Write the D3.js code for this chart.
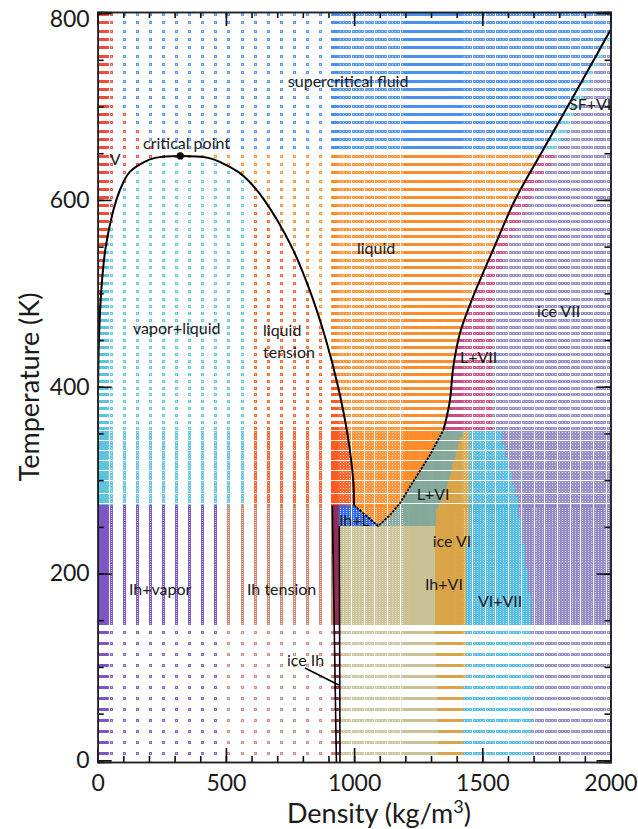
<!DOCTYPE html>
<html><head><meta charset="utf-8">
<script src="https://cdn.jsdelivr.net/npm/d3@7"></script>
<style>
html,body{margin:0;padding:0;background:#fff;}
svg{display:block;}
text{font-family:Lato,"Open Sans",sans-serif;fill:#1a1a1a;}
</style></head>
<body>
<svg id="chart" width="638" height="829"></svg>
<script>
// ---------------- DATA ----------------
// sampling grid: densities (kg/m3)
const densityNearZero = [0.5, 4, 8, 12, 16, 20, 24, 28, 32, 36];
const densityCoarse = [51, 102, 153, 204, 255, 306, 357, 408, 459, 510, 561, 612, 663, 714, 765, 816, 867];
const densityIhEdge = [912, 915, 918, 921, 924, 927, 930, 933];
const densityFine = [943.5, 956.25, 969, 981.75, 994.5, 1007.25, 1020, 1032.75, 1045.5, 1058.25, 1071, 1083.75, 1096.5, 1109.25, 1122, 1134.75, 1147.5, 1160.25, 1173, 1185.75, 1198.5,
  1415.25, 1428, 1440.75, 1453.5, 1466.25, 1479, 1491.75, 1504.5, 1517.25, 1530, 1542.75, 1555.5, 1568.25, 1581, 1593.75, 1606.5, 1619.25, 1632, 1644.75, 1657.5, 1670.25, 1683, 1695.75, 1708.5, 1721.25, 1734, 1746.75, 1759.5, 1772.25, 1785, 1797.75, 1810.5, 1823.25, 1836, 1848.75, 1861.5, 1874.25, 1887, 1899.75, 1912.5, 1925.25, 1938, 1950.75, 1963.5, 1976.25, 1989];
const densityDenseBand = [1200, 1204.25, 1208.5, 1212.75, 1217, 1221.25, 1225.5, 1229.75, 1234, 1238.25, 1242.5, 1246.75, 1251, 1255.25, 1259.5, 1263.75, 1268, 1272.25, 1276.5, 1280.75, 1285, 1289.25, 1293.5, 1297.75, 1302, 1306.25, 1310.5, 1314.75, 1319, 1323.25, 1327.5, 1331.75, 1336, 1340.25, 1344.5, 1348.75, 1353, 1357.25, 1361.5, 1365.75, 1370, 1374.25, 1378.5, 1382.75, 1387, 1391.25, 1395.5, 1399.75, 1404, 1408.25, 1412.5];

// sampling grid: temperatures (K)
const tempHigh = [799, 790.08, 781.16, 772.24, 763.32, 754.4, 745.48, 736.56, 727.64, 718.72, 709.8, 700.88, 691.96, 683.04, 674.12, 665.2, 656.28, 647.36, 638.44, 629.52, 620.6, 611.68, 602.76, 594.4, 586.1, 577.8, 569.4, 561.1, 552.8, 544.4, 536.1, 527.7, 519.4, 511.1, 502.8, 494.4, 486.1, 478.8, 471.6, 464.3, 457.1, 449.8, 442.5, 435.3, 428.0, 420.8, 413.5, 406.2, 399.0, 391.7, 384.5, 377.2, 369.9, 362.7, 355.4];
const tempMid = [351.8, 348.2, 344.7, 341.1, 337.6, 334.0, 330.5, 326.9, 323.4, 319.8, 316.3, 312.7, 309.2, 305.6, 302.1, 298.5, 295.0, 291.4, 287.9, 284.3, 280.8, 277.2, 273.7];
const tempIce = [272.3, 270.1, 267.9, 265.7, 263.5, 261.3, 259.1, 256.9, 254.7, 252.5, 250.3, 248.1, 245.9, 243.7, 241.5, 239.3, 237.1, 234.9, 232.7, 230.5, 228.3, 226.1, 223.9, 221.7, 219.5, 217.3, 215.1, 212.9, 210.7, 208.5, 206.3, 204.1, 201.9, 199.7, 197.5, 195.3, 193.1, 190.9, 188.7, 186.5, 184.3, 182.1, 179.9, 177.7, 175.5, 173.3, 171.1, 168.9, 166.7, 164.5, 162.3, 160.1, 157.9, 155.7, 153.5, 151.3, 149.1, 146.9];
const tempLow = [137.1, 125.3, 113.5, 101.7, 90.0, 78.2, 66.4, 54.6, 42.8, 31.1, 19.3, 7.5];

// liquid-vapour coexistence (T, vapour density, liquid density)
const satT   = [273.16, 300, 350, 400, 450, 500, 550, 600, 620, 630, 640, 645, 647.1];
const satVap = [0.0049, 0.0256, 0.26, 1.37, 4.81, 13.2, 31.5, 72.8, 101.9, 125.1, 177.1, 224, 322];
const satLiq = [999.8, 996.5, 973.7, 937.5, 890.3, 831.3, 756.0, 649.4, 589.9, 548.0, 481.5, 431, 322];
const criticalPoint = [322, 647.1];

// melting curve of ice VII (rho, T) and liquid / ice VI boundary
const meltRho = [2000, 1825.3, 1736.7, 1627.5, 1541.7, 1458.7, 1413, 1386.9, 1374, 1358.4, 1347.9];
const meltT   = [781.9, 696.3, 653.4, 599.9, 546.4, 492.8, 457.5, 421.4, 385.8, 364.4, 353.6];
const lviRho  = [1347.9, 1296, 1218, 1179, 1140, 1093.3];
const lviT    = [353.6, 326.9, 292.9, 275.4, 262.6, 250.8];

// other phase boundaries (rho, T)
const vapourSFRho = [322, 290, 230, 170, 110, 75, 75];
const vapourSFT   = [647.1, 651, 660, 672, 690, 700, 801];
const sfT = 650.6;
const tensionRho = 585;
const ihVapourRho = 490;
const ihLeftRho = [915, 931],  ihLeftT = [272.2, -1.8];
const ihRightRho = [942.3, 945], ihRightT = [250.8, -1.8];
const ihLT = 250.8;
const vi1T   = [353.6, 346, 310.7, 278.6, 267.9, 250.8, 171.6, -1.8];
const vi1Rho = [1421, 1413, 1382, 1346, 1323, 1319, 1315, 1331];
const vi2T   = [353.6, 278.6, 250.8, 171.6, -1.8];
const vi2Rho = [1452, 1452, 1444, 1432, 1424];
const vii1T  = [353.6, 310.7, 278.6, 214.4, 171.6, -1.8];
const vii1Rho= [1569, 1608, 1635, 1666, 1686, 1686];
const lviiRT   = [801, 647.8, 599.6, 546, 492.8, 353.6];
const lviiRRho = [2000, 1783, 1686, 1588, 1538, 1538];
const sfviiRT   = [801, 773, 710, 657, 648];
const sfviiRRho = [2000, 2000, 1892, 1791, 1783];
const leaderRho = [808.5, 940], leaderT = [98.8, 80.6];

const phaseColors = {
  "vapor": "#f04a3a", "vapor+liquid": "#5cc3dc", "liquid tension": "#ff5a1e", "liquid": "#ff8c2a",
  "supercritical fluid": "#4b8ff0", "SF+VII": "#5ec8e2", "L+VII": "#cc4a86", "ice VII": "#8d87c2",
  "L+VI": "#84a89a", "ice VI": "#d8a447", "VI+VII": "#4db9e2", "Ih+VI": "#c9c194", "Ih+L": "#2d66f0",
  "ice Ih": "#8e2c5c", "Ih tension": "#cd8875", "Ih+vapor": "#7c55c4"
};

const labels = [
  ["supercritical fluid", 741.6, 720.5], ["critical point", 176.7, 654.2], ["V", 47, 637],
  ["liquid", 1011, 542], ["vapor+liquid", 137.7, 456], ["liquid", 644.9, 454.3], ["tension", 644.9, 430.7],
  ["ice VII", 1713.7, 474.5], ["L+VII", 1413, 425.4], ["SF+VII", 1838, 696.8], ["L+VI", 1244, 278.7],
  ["Ih+L", 941, 250.9], ["ice VI", 1306.5, 228.4], ["Ih+VI", 1276.5, 182.3], ["VI+VII", 1483, 164.1],
  ["Ih+vapor", 122, 177], ["Ih tension", 582.3, 177], ["ice Ih", 738, 101]
];

const xTicksMajor = [0, 500, 1000, 1500, 2000];
const yTicksMajor = [0, 200, 400, 600, 800];

// ---------------- HELPERS ----------------
function interp(keys, vals, k) {
  const pts = keys.map((kk, i) => [kk, vals[i]]).sort((a, b) => a[0] - b[0]);
  if (k <= pts[0][0]) return pts[0][1];
  if (k >= pts[pts.length - 1][0]) return pts[pts.length - 1][1];
  for (let i = 1; i < pts.length; i++) {
    if (k <= pts[i][0]) {
      const t = (k - pts[i - 1][0]) / (pts[i][0] - pts[i - 1][0]);
      return pts[i - 1][1] + t * (pts[i][1] - pts[i - 1][1]);
    }
  }
}
function phaseOf(r, T) {
  if (T < 273.16) {
    if (T > ihLT) {
      const vL = interp([273.16, 250.8], [999.8, 1093.3], T);
      const vR = interp(lviT, lviRho, T);
      if (r > vL && r < vR) return "liquid";
    }
    if (r < ihVapourRho) return "Ih+vapor";
    if (r < interp(ihLeftT, ihLeftRho, T)) return "Ih tension";
    if (r < 941) return "ice Ih";
    const a = interp(vi1T, vi1Rho, T), b = interp(vi2T, vi2Rho, T), c = interp(vii1T, vii1Rho, T);
    if (T > ihLT) {
      const vL = interp([273.16, 250.8], [999.8, 1093.3], T);
      if (r < vL) return "Ih+L";
      if (r < a) return "L+VI";
    } else if (r < a) return "Ih+VI";
    if (r < b) return "ice VI";
    if (r < c) return "VI+VII";
    return "ice VII";
  }
  if (T < 647.1) {
    if (r < interp(satT, satVap, T)) return "vapor";
    if (r < interp(satT, satLiq, T)) return r < tensionRho ? "vapor+liquid" : "liquid tension";
  } else if (r < interp(vapourSFT, vapourSFRho, T)) return "vapor";
  if (T < 353.6) {
    if (r < interp(lviT, lviRho, T)) return "liquid";
    const a = interp(vi1T, vi1Rho, T), b = interp(vi2T, vi2Rho, T), c = interp(vii1T, vii1Rho, T);
    if (r < a) return "L+VI";
    if (r < b) return "ice VI";
    if (r < c) return "VI+VII";
    return "ice VII";
  }
  if (r < interp(meltT, meltRho, T)) return T > sfT ? "supercritical fluid" : "liquid";
  if (T > sfT) return r < interp(sfviiRT, sfviiRRho, T) ? "SF+VII" : "ice VII";
  return r < interp(lviiRT, lviiRRho, T) ? "L+VII" : "ice VII";
}

// ---------------- CHART ----------------
const svg = d3.select("#chart");
const x = d3.scaleLinear().domain([0, 2000]).range([97.7, 610.5]);
const y = d3.scaleLinear().domain([-1.8, 801.2]).range([762, 12]);

svg.append("defs").append("clipPath").attr("id", "plotclip")
  .append("rect").attr("x", x(0)).attr("y", y(801.2)).attr("width", x(2000) - x(0)).attr("height", y(-1.8) - y(801.2));

const densities = [].concat(densityNearZero, densityCoarse, densityIhEdge, densityFine, densityDenseBand);
const temps = [].concat(tempHigh, tempMid, tempIce, tempLow);
const pts = [];
temps.forEach(T => densities.forEach(r => pts.push({r, T, p: phaseOf(r, T)})));

// small hollow square markers (3x3 px ring with light centre)
const gPts = svg.append("g").attr("clip-path", "url(#plotclip)");
gPts.selectAll("rect").data(pts).join("rect")
  .attr("x", d => Math.round(x(d.r)) - 0.5).attr("y", d => Math.round(y(d.T)) - 0.5)
  .attr("width", 2).attr("height", 2)
  .attr("fill", d => phaseColors[d.p]).attr("fill-opacity", 0.35)
  .attr("stroke", d => phaseColors[d.p]).attr("stroke-width", 1).attr("stroke-opacity", 0.9);

// boundary curves
const gLines = svg.append("g").attr("clip-path", "url(#plotclip)").attr("fill", "none").attr("stroke", "#000");
const domePts = satT.map((T, i) => [satVap[i], T]).concat(satT.slice(0, -1).map((T, i) => [satLiq[i], T]).reverse());
gLines.append("path")
  .attr("d", d3.line().x(d => x(d[0])).y(d => y(d[1])).curve(d3.curveCatmullRom.alpha(0.5))(domePts))
  .attr("stroke-width", 2);
const lowerPts = [[satLiq[0], satT[0]]].concat(lviT.map((T, i) => [lviRho[i], T]).reverse());
gLines.append("path")
  .attr("d", d3.line().x(d => x(d[0])).y(d => y(d[1])).curve(d3.curveLinear)(lowerPts))
  .attr("stroke-width", 1.8).attr("stroke-dasharray", "2.5,1.2");
gLines.append("path")
  .attr("d", d3.line().x(d => x(d[0])).y(d => y(d[1])).curve(d3.curveCatmullRom.alpha(0.5))(meltT.map((T, i) => [meltRho[i], T]).reverse()))
  .attr("stroke-width", 2);
gLines.append("path").attr("d", d3.line()(ihLeftT.map((T, i) => [x(ihLeftRho[i]), y(T)]))).attr("stroke-width", 1.6);
gLines.append("path").attr("d", d3.line()(ihRightT.map((T, i) => [x(ihRightRho[i]), y(T)]))).attr("stroke-width", 1.6);
gLines.append("path").attr("d", d3.line()(leaderT.map((T, i) => [x(leaderRho[i]), y(T)]))).attr("stroke-width", 1.6);

svg.append("circle").attr("cx", x(criticalPoint[0])).attr("cy", y(criticalPoint[1])).attr("r", 3.6).attr("fill", "#000");

// labels
const gLab = svg.append("g").attr("clip-path", "url(#plotclip)");
gLab.selectAll("text").data(labels).join("text")
  .attr("x", d => x(d[1])).attr("y", d => y(d[2]))
  .attr("font-size", 16).text(d => d[0]);

// axes
function addAxis(axisGen, transform, labelsOn) {
  const g = svg.append("g").attr("transform", transform).call(axisGen);
  g.select(".domain").attr("stroke", "#222").attr("stroke-width", 1.6);
  g.selectAll(".tick line").attr("stroke", "#111").attr("stroke-width", 1.6);
  if (!labelsOn) g.selectAll(".tick text").remove();
  return g;
}
const xMinor = d3.range(0, 2001, 100), yMinor = d3.range(0, 801, 50);
addAxis(d3.axisBottom(x).tickValues(xMinor).tickSize(-6).tickFormat(""), `translate(0,${y(-1.8)})`, false);
addAxis(d3.axisTop(x).tickValues(xMinor).tickSize(-6).tickFormat(""), `translate(0,${y(801.2)})`, false);
addAxis(d3.axisLeft(y).tickValues(yMinor).tickSize(-6).tickFormat(""), `translate(${x(0)},0)`, false);
addAxis(d3.axisRight(y).tickValues(yMinor).tickSize(-6).tickFormat(""), `translate(${x(2000)},0)`, false);
const fmt = d3.format("d");
const gxb = addAxis(d3.axisBottom(x).tickValues(xTicksMajor).tickSize(-14).tickPadding(13).tickFormat(fmt), `translate(0,${y(-1.8)})`, true);
addAxis(d3.axisTop(x).tickValues(xTicksMajor).tickSize(-14), `translate(0,${y(801.2)})`, false);
const gyl = addAxis(d3.axisLeft(y).tickValues(yTicksMajor).tickSize(-14).tickPadding(8).tickFormat(fmt), `translate(${x(0)},0)`, true);
addAxis(d3.axisRight(y).tickValues(yTicksMajor).tickSize(-14), `translate(${x(2000)},0)`, false);
[gxb, gyl].forEach(g => g.selectAll(".tick text").attr("font-family", "Lato, sans-serif").attr("font-size", 23).attr("fill", "#111"));
gyl.selectAll(".tick text").filter(d => d === 800).attr("dy", "0.6em");

// axis titles
const xt = svg.append("text").attr("x", 379).attr("y", 823).attr("text-anchor", "middle").attr("font-size", 27);
xt.append("tspan").text("Density (kg/m");
xt.append("tspan").attr("font-size", 18).attr("dy", -10).text("3");
xt.append("tspan").attr("dy", 10).text(")");
svg.append("text").attr("transform", "translate(39,387) rotate(-90)").attr("text-anchor", "middle")
  .attr("font-size", 27).text("Temperature (K)");
</script>
</body></html>
